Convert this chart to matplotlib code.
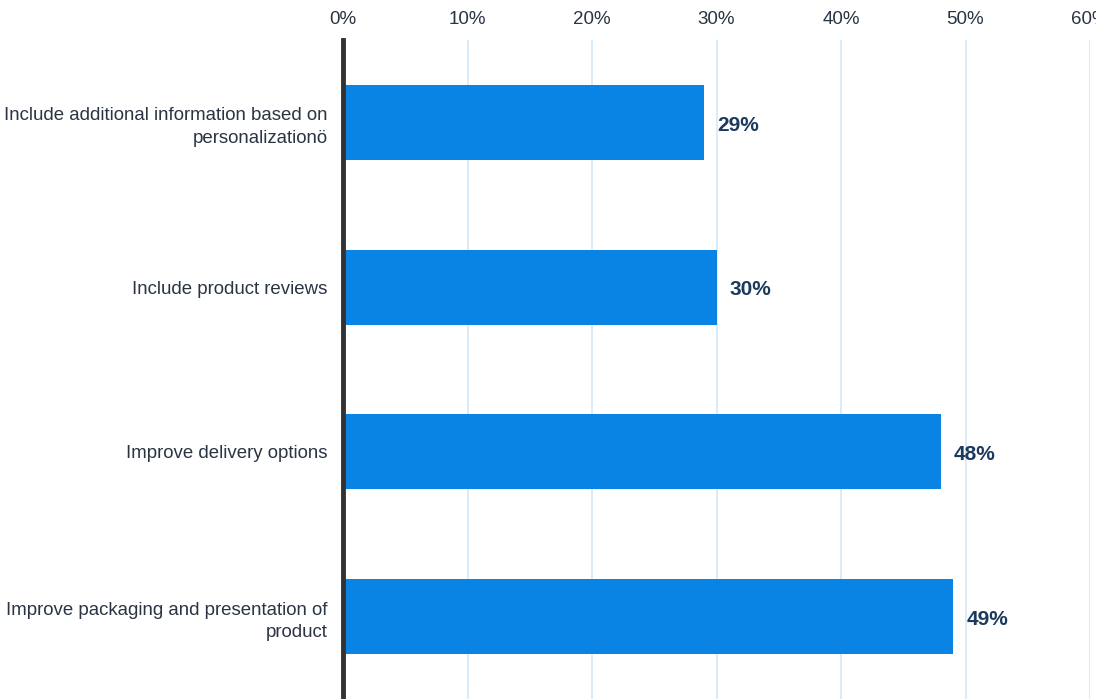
import matplotlib.pyplot as plt
import numpy as np

categories = [
    "Include additional information based on\npersonalizationö",
    "Include product reviews",
    "Improve delivery options",
    "Improve packaging and presentation of\nproduct",
]
values = [29, 30, 48, 49]
ticks = [0, 10, 20, 30, 40, 50, 60]

plt.rcParams['font.family'] = ['Liberation Sans', 'DejaVu Sans']

fig = plt.figure(figsize=(10.96, 6.99), dpi=100)
ax = fig.add_axes([343 / 1096, 0, 747 / 1096, 659 / 699])

y = np.arange(len(categories))
ax.barh(y, values, height=0.455, color='#0A84E4', zorder=2)

# value labels just past the bar ends
for yi, v in zip(y, values):
    ax.annotate(f"{v}%", (v, yi), xytext=(9.5, -2), textcoords='offset points',
                ha='left', va='center', fontsize=15, fontweight='bold',
                color='#1B3A5E')

ax.set_xlim(0, 60)
ax.set_ylim(3.5, -0.5)
ax.set_xticks(ticks)
ax.set_xticklabels([f"{t}%" for t in ticks], fontsize=13.5, color='#2A3442')
ax.xaxis.tick_top()
ax.tick_params(axis='x', length=0, pad=8.5)
ax.set_yticks(y)
ax.set_yticklabels(categories, fontsize=13.4, color='#2A3442', linespacing=1.4)
ax.tick_params(axis='y', length=0, pad=11)

ax.grid(axis='x', color='#D3E7F8', linewidth=1.2, zorder=0)
for s in ['top', 'right', 'bottom']:
    ax.spines[s].set_visible(False)
ax.spines['left'].set_linewidth(3.5)
ax.spines['left'].set_color('#333333')
ax.spines['left'].set_zorder(3)

fig.savefig('out.png', dpi=100)
